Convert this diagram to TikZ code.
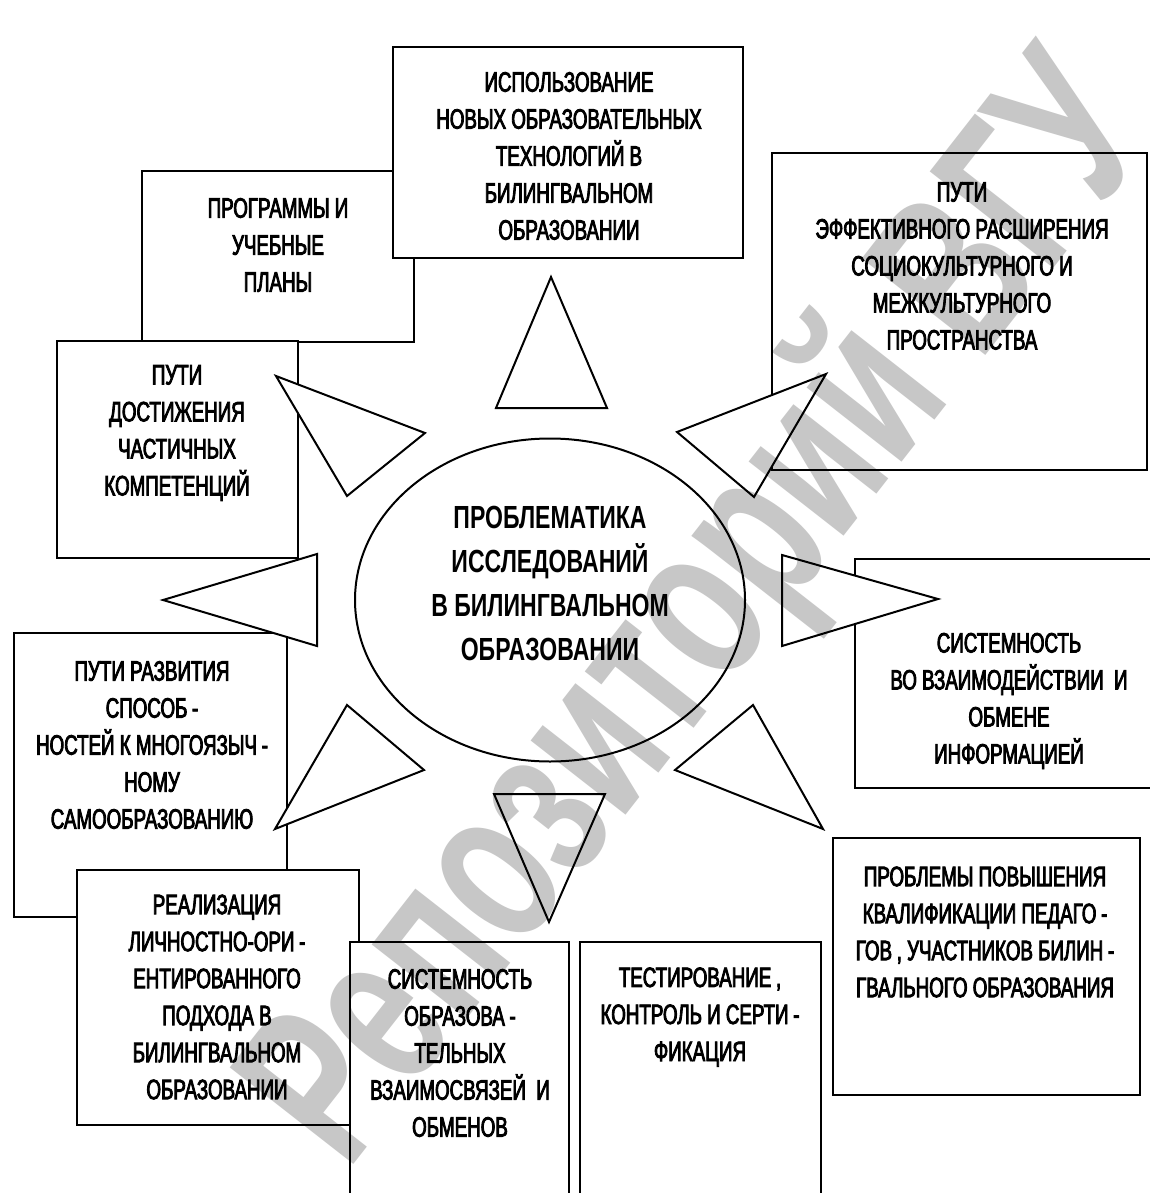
\documentclass[tikz,border=0pt]{standalone}
\usepackage{fontspec}
\setmainfont{Liberation Sans}[FakeStretch=0.67,FakeBold=3]
\newfontfamily\corefont{Liberation Sans}[FakeStretch=0.72]
\newfontfamily\wmfont{Liberation Sans}[FakeStretch=0.67]
\usetikzlibrary{shapes.geometric}
\definecolor{wmgray}{gray}{0.78}
\begin{document}
\begin{tikzpicture}[x=0.5pt,y=-0.5pt,
  box/.style={draw, line width=1.3pt, fill=white},
  tri/.style={draw, line width=1pt, fill=white, line join=miter},
  lbl/.style={align=center, font=\fontsize{14}{18.5}\selectfont, inner sep=0pt},
  corelbl/.style={align=center, font=\corefont\bfseries\fontsize{16}{22}\selectfont, inner sep=0pt},
  wmark/.style={font=\wmfont\bfseries\fontsize{114}{114}\selectfont, text=wmgray, inner sep=0pt}]
\useasboundingbox (0,0) rectangle (1150,1193);
\clip (0,0) rectangle (1150,1193);
\fill[white] (0,0) rectangle (1150,1193);
% boxes
\draw[box] (142,171) rectangle (414,342);
\draw[box] (393,47) rectangle (743,258);
\draw[box] (57,341) rectangle (298,558);
\draw[box] (14,633) rectangle (287,917);
\draw[box] (77,870) rectangle (359,1125);
\draw[box] (350,942) rectangle (569,1210);
\draw[box] (580,942) rectangle (821,1210);
\draw[box] (833,838) rectangle (1140,1095);
\draw[box] (855,559) rectangle (1160,788);
\draw[box] (772,153) rectangle (1147,470);
% central ellipse
\node[draw, ellipse, line width=1pt, fill=white, minimum width=195pt, minimum height=161.5pt, inner sep=0pt] (core) at (550,600) {};
% triangles
\draw[tri] (551,277) -- (607,408) -- (496,408) -- cycle;
\draw[tri] (826,374) -- (754,497) -- (677,432) -- cycle;
\draw[tri] (938,599) -- (782,646) -- (782,555) -- cycle;
\draw[tri] (823,829) -- (675,770) -- (753,705) -- cycle;
\draw[tri] (549,922) -- (494,794) -- (605,794) -- cycle;
\draw[tri] (275,829) -- (347,705) -- (424,770) -- cycle;
\draw[tri] (163,600) -- (317,554) -- (317,646) -- cycle;
\draw[tri] (276,376) -- (425,433) -- (347,496) -- cycle;
% labels
\node[lbl] (tTop) at (569,156) {ИСПОЛЬЗОВАНИЕ\\НОВЫХ ОБРАЗОВАТЕЛЬНЫХ\\ТЕХНОЛОГИЙ В\\БИЛИНГВАЛЬНОМ\\ОБРАЗОВАНИИ};
\node[lbl] (tProg) at (278,245) {ПРОГРАММЫ И\\УЧЕБНЫЕ\\ПЛАНЫ};
\node[lbl] (tDost) at (177,433) {ПУТИ\\ДОСТИЖЕНИЯ\\ЧАСТИЧНЫХ\\КОМПЕТЕНЦИЙ};
\node[lbl] (tEff) at (962,266) {ПУТИ\\ЭФФЕКТИВНОГО РАСШИРЕНИЯ\\СОЦИОКУЛЬТУРНОГО И\\МЕЖКУЛЬТУРНОГО\\ПРОСТРАНСТВА};
\node[lbl] (tVzaim) at (1009,701) {СИСТЕМНОСТЬ\\ВО ВЗАИМОДЕЙСТВИИ~~И\\ОБМЕНЕ\\ИНФОРМАЦИЕЙ};
\node[lbl] (tRazv) at (152,745) {ПУТИ РАЗВИТИЯ\\СПОСОБ\,-\\НОСТЕЙ К МНОГОЯЗЫЧ\,-\\НОМУ\\САМООБРАЗОВАНИЮ};
\node[lbl] (tReal) at (217,997) {РЕАЛИЗАЦИЯ\\ЛИЧНОСТНО-ОРИ\,-\\ЕНТИРОВАННОГО\\ПОДХОДА В\\БИЛИНГВАЛЬНОМ\\ОБРАЗОВАНИИ};
\node[lbl] (tSist) at (460,1053) {СИСТЕМНОСТЬ\\ОБРАЗОВА\,-\\ТЕЛЬНЫХ\\ВЗАИМОСВЯЗЕЙ~~И\\ОБМЕНОВ};
\node[lbl] (tTest) at (700,1017) {ТЕСТИРОВАНИЕ\,,\\КОНТРОЛЬ И СЕРТИ\,-\\ФИКАЦИЯ};
\node[lbl] (tProb) at (985,932) {ПРОБЛЕМЫ ПОВЫШЕНИЯ\\КВАЛИФИКАЦИИ ПЕДАГО\,-\\ГОВ\,, УЧАСТНИКОВ БИЛИН\,-\\ГВАЛЬНОГО ОБРАЗОВАНИЯ};
\node[corelbl] (coreText) at (550,583) {ПРОБЛЕМАТИКА\\ИССЛЕДОВАНИЙ\\В БИЛИНГВАЛЬНОМ\\ОБРАЗОВАНИИ};
% watermark
\begin{scope}[blend mode=multiply]
\node[wmark, rotate=52] (wm) at (705,615) {Репозиторий ВГУ};
\end{scope}
\end{tikzpicture}
\end{document}
